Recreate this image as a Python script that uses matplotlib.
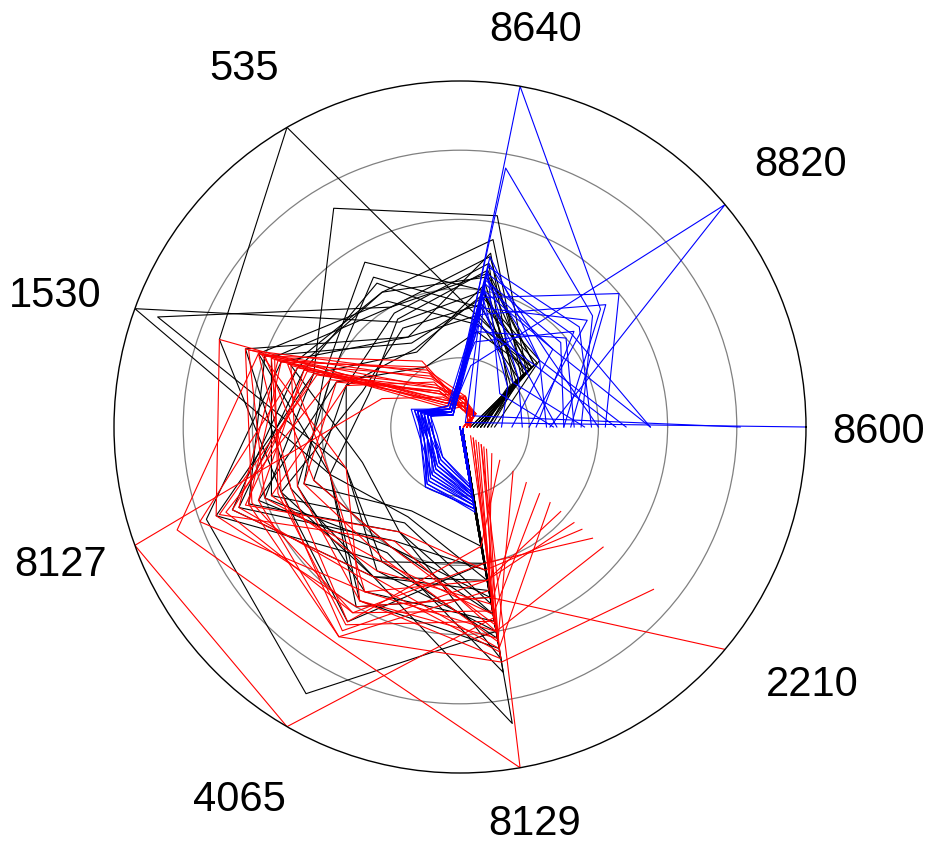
import numpy as np
import matplotlib.pyplot as plt

categories = ["8600", "8820", "8640", "535", "1530", "8127", "4065", "8129", "2210"]

# values per sample, in the order of categories (normalised 0..1)
blue_vals = [
    [1.00, 0.02, 0.35, 0.04, 0.10, 0.08, 0.12, 0.20, 0.01],
    [0.81, 0.05, 0.42, 0.05, 0.12, 0.10, 0.15, 0.22, 0.01],
    [0.26, 1.00, 0.18, 0.05, 0.09, 0.07, 0.10, 0.18, 0.01],
    [0.30, 0.53, 1.00, 0.04, 0.11, 0.09, 0.14, 0.21, 0.00],
    [0.35, 0.50, 0.76, 0.05, 0.10, 0.08, 0.12, 0.19, 0.01],
    [0.55, 0.35, 0.40, 0.06, 0.13, 0.10, 0.20, 0.24, 0.01],
    [0.55, 0.42, 0.45, 0.05, 0.12, 0.11, 0.18, 0.23, 0.00],
    [0.42, 0.60, 0.38, 0.06, 0.11, 0.09, 0.16, 0.22, 0.01],
    [0.38, 0.45, 0.47, 0.05, 0.14, 0.10, 0.13, 0.20, 0.01],
    [0.30, 0.38, 0.43, 0.07, 0.12, 0.12, 0.19, 0.25, 0.00],
    [0.25, 0.30, 0.50, 0.05, 0.10, 0.09, 0.11, 0.18, 0.01],
    [0.20, 0.48, 0.35, 0.06, 0.13, 0.11, 0.17, 0.22, 0.01],
    [0.45, 0.28, 0.30, 0.04, 0.09, 0.08, 0.10, 0.17, 0.00],
    [0.18, 0.22, 0.45, 0.05, 0.11, 0.10, 0.14, 0.21, 0.01],
    [0.33, 0.40, 0.28, 0.06, 0.15, 0.12, 0.20, 0.24, 0.01],
    [0.28, 0.25, 0.40, 0.05, 0.12, 0.09, 0.13, 0.19, 0.00],
    [0.40, 0.33, 0.48, 0.04, 0.10, 0.08, 0.12, 0.20, 0.01],
    [0.15, 0.35, 0.42, 0.06, 0.14, 0.11, 0.18, 0.23, 0.01],
    [0.36, 0.20, 0.36, 0.05, 0.11, 0.10, 0.15, 0.21, 0.00],
    [0.22, 0.43, 0.25, 0.07, 0.13, 0.12, 0.16, 0.22, 0.01],
    [0.48, 0.30, 0.44, 0.05, 0.12, 0.09, 0.14, 0.20, 0.01],
    [0.12, 0.18, 0.38, 0.04, 0.10, 0.08, 0.11, 0.18, 0.00],
    [0.32, 0.55, 0.33, 0.06, 0.12, 0.10, 0.17, 0.23, 0.01],
    [0.27, 0.15, 0.46, 0.05, 0.13, 0.11, 0.19, 0.24, 0.01],
]

black_vals = [
    [0.05, 0.27, 0.32, 1.00, 0.74, 0.55, 0.50, 0.45, 0.01],
    [0.08, 0.25, 0.62, 0.73, 0.45, 0.60, 0.40, 0.55, 0.01],
    [0.04, 0.22, 0.40, 0.35, 1.00, 0.40, 0.60, 0.50, 0.00],
    [0.06, 0.28, 0.45, 0.40, 0.93, 0.35, 0.45, 0.40, 0.01],
    [0.07, 0.20, 0.51, 0.30, 0.55, 0.78, 0.89, 0.60, 0.01],
    [0.03, 0.26, 0.44, 0.45, 0.50, 0.70, 0.50, 0.87, 0.00],
    [0.10, 0.30, 0.38, 0.28, 0.60, 0.65, 0.35, 0.68, 0.01],
    [0.05, 0.24, 0.35, 0.50, 0.40, 0.50, 0.55, 0.57, 0.01],
    [0.06, 0.18, 0.48, 0.38, 0.35, 0.45, 0.40, 0.50, 0.00],
    [0.04, 0.27, 0.30, 0.42, 0.62, 0.40, 0.30, 0.45, 0.01],
    [0.08, 0.21, 0.42, 0.25, 0.45, 0.75, 0.45, 0.62, 0.01],
    [0.05, 0.29, 0.36, 0.33, 0.30, 0.55, 0.65, 0.40, 0.00],
    [0.09, 0.23, 0.55, 0.45, 0.52, 0.30, 0.35, 0.55, 0.01],
    [0.03, 0.26, 0.28, 0.20, 0.38, 0.62, 0.42, 0.72, 0.01],
    [0.07, 0.19, 0.40, 0.55, 0.42, 0.48, 0.28, 0.35, 0.00],
    [0.06, 0.25, 0.33, 0.30, 0.66, 0.52, 0.50, 0.48, 0.01],
    [0.04, 0.28, 0.46, 0.36, 0.28, 0.40, 0.58, 0.65, 0.01],
    [0.08, 0.22, 0.31, 0.48, 0.48, 0.68, 0.38, 0.42, 0.00],
    [0.05, 0.27, 0.39, 0.26, 0.35, 0.35, 0.48, 0.60, 0.01],
    [0.06, 0.24, 0.50, 0.40, 0.58, 0.58, 0.32, 0.52, 0.01],
]

red_vals = [
    [0.02, 0.04, 0.06, 0.10, 0.24, 1.00, 1.00, 0.56, 0.05],
    [0.01, 0.05, 0.08, 0.16, 0.62, 0.87, 0.72, 1.00, 0.08],
    [0.03, 0.03, 0.07, 0.08, 0.74, 0.75, 0.60, 0.50, 1.00],
    [0.02, 0.06, 0.05, 0.20, 0.55, 0.65, 0.70, 0.69, 0.73],
    [0.01, 0.04, 0.09, 0.11, 0.50, 0.80, 0.55, 0.60, 0.54],
    [0.02, 0.05, 0.06, 0.06, 0.58, 0.55, 0.68, 0.45, 0.43],
    [0.03, 0.03, 0.08, 0.13, 0.45, 0.70, 0.50, 0.65, 0.34],
    [0.02, 0.06, 0.07, 0.18, 0.65, 0.60, 0.45, 0.55, 0.30],
    [0.01, 0.04, 0.05, 0.12, 0.40, 0.72, 0.62, 0.40, 0.50],
    [0.02, 0.05, 0.09, 0.08, 0.52, 0.50, 0.58, 0.62, 0.10],
    [0.03, 0.04, 0.06, 0.22, 0.60, 0.45, 0.40, 0.58, 0.06],
    [0.02, 0.06, 0.08, 0.14, 0.48, 0.62, 0.70, 0.48, 0.12],
    [0.01, 0.03, 0.07, 0.09, 0.56, 0.68, 0.52, 0.66, 0.08],
    [0.02, 0.05, 0.05, 0.15, 0.35, 0.58, 0.48, 0.52, 0.25],
    [0.03, 0.04, 0.09, 0.07, 0.62, 0.52, 0.65, 0.35, 0.15],
    [0.02, 0.06, 0.06, 0.11, 0.44, 0.74, 0.38, 0.60, 0.05],
    [0.01, 0.05, 0.08, 0.17, 0.53, 0.40, 0.55, 0.45, 0.38],
    [0.02, 0.03, 0.07, 0.09, 0.66, 0.64, 0.62, 0.54, 0.07],
    [0.03, 0.05, 0.05, 0.12, 0.38, 0.48, 0.44, 0.63, 0.20],
    [0.02, 0.04, 0.09, 0.19, 0.57, 0.56, 0.66, 0.57, 0.09],
    [0.01, 0.06, 0.06, 0.08, 0.47, 0.66, 0.35, 0.42, 0.46],
    [0.02, 0.05, 0.08, 0.13, 0.61, 0.35, 0.58, 0.68, 0.04],
]

plt.rcParams['font.family'] = ['Liberation Sans', 'DejaVu Sans']

angles = np.deg2rad(np.arange(len(categories)) * 40.0)

fig = plt.figure(figsize=(9.29, 8.45), dpi=100)
ax = fig.add_axes([114 / 929, 71 / 845, 692 / 929, 692 / 845], projection="polar")

for vals, col in [(black_vals, "black"), (red_vals, "red"), (blue_vals, "blue")]:
    for row in vals:
        ax.plot(angles, row, color=col, lw=0.8)

ax.set_ylim(0, 1)
ax.set_yticks([0.2, 0.4, 0.6, 0.8])
ax.set_yticklabels([])
ax.yaxis.grid(True, color="gray", lw=0.9)
ax.set_xticks([])
ax.xaxis.grid(False)
ax.spines["polar"].set_color("black")
ax.spines["polar"].set_linewidth(1.0)

# label placement (angle in degrees, radius relative to the outer ring)
label_theta = [-0.6, 37.7, 79.3, 121.0, 162.0, 199.0, 239.4, 280.7, 323.9]
label_r = [1.21, 1.245, 1.17, 1.21, 1.23, 1.22, 1.25, 1.165, 1.26]
for t, r, name in zip(label_theta, label_r, categories):
    ax.text(np.deg2rad(t), r, name, ha="center", va="center", fontsize=30, clip_on=False)

fig.savefig("out.png", dpi=100)
